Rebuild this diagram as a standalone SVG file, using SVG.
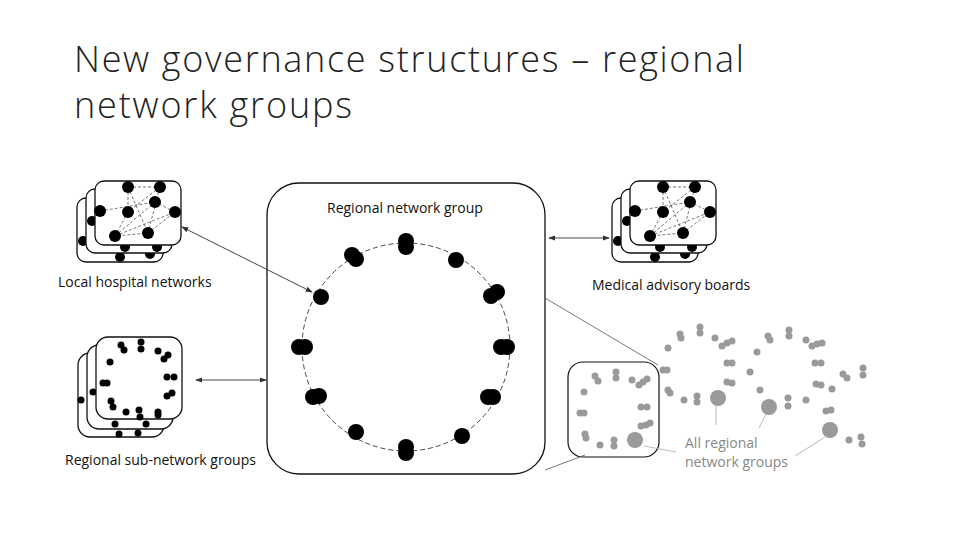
<svg xmlns="http://www.w3.org/2000/svg" width="960" height="540" viewBox="0 0 960 540">
<style>
.t{font-family:"Open Sans","Liberation Sans",sans-serif;font-weight:300;font-size:36px;fill:#222}
.l{font-family:"Open Sans","Liberation Sans",sans-serif;font-size:14px;fill:#111}
.g{font-family:"Open Sans","Liberation Sans",sans-serif;font-size:14px;fill:#888}
.card{fill:#fff;stroke:#111;stroke-width:1.3}
.d{fill:#000}
.gd{fill:#9a9a9a}
.dl{stroke:#555;stroke-width:0.8;stroke-dasharray:3 2;fill:none}
.ar{stroke:#333;stroke-width:0.9;fill:none}
</style>
<defs>
<marker id="a" markerWidth="8" markerHeight="6" refX="7" refY="3" orient="auto-start-reverse"><path d="M0,0 L8,3 L0,6 z" fill="#333"/></marker>
<g id="net">
<rect class="card" x="-18" y="17" width="86" height="64" rx="9"/>
<circle class="d" cx="25" cy="76" r="5"/><circle class="d" cx="55" cy="73" r="5"/><circle class="d" cx="-12" cy="60" r="5"/>
<rect class="card" x="-9" y="8" width="86" height="64" rx="9"/>
<circle class="d" cx="30" cy="66" r="5"/><circle class="d" cx="-3" cy="40" r="5"/><circle class="d" cx="5" cy="22" r="5"/><circle class="d" cx="62" cy="66" r="5"/>
<rect class="card" x="0" y="0" width="86" height="64" rx="9"/>
<path class="dl" d="M33,6 L65,6 M5,30 L60,21 L80,31 L53,52 L20,55 L33,31 M33,6 L33,31 M65,6 L53,52 M33,6 L53,52 M20,55 L60,21 M20,55 L80,31 M65,6 L33,31"/>
<circle class="d" cx="33" cy="6" r="6"/><circle class="d" cx="65" cy="6" r="6"/><circle class="d" cx="5" cy="30" r="6"/><circle class="d" cx="33" cy="31" r="6"/><circle class="d" cx="60" cy="21" r="6"/><circle class="d" cx="80" cy="31" r="6"/><circle class="d" cx="20" cy="55" r="6"/><circle class="d" cx="53" cy="52" r="6"/>
</g>
</defs>
<text class="t" x="74" y="72" textLength="670">New governance structures – regional</text>
<text class="t" x="74" y="118" textLength="278">network groups</text>

<g id="local-hospital-networks">
<use href="#net" x="95" y="181"/>
<text class="l" x="58" y="287">Local hospital networks</text>
</g>

<g id="medical-advisory-boards">
<use href="#net" x="630" y="181"/>
<text class="l" x="592" y="290">Medical advisory boards</text>
</g>

<g id="regional-sub-network-groups">
<rect class="card" x="78" y="353" width="86" height="84" rx="12"/>
<circle class="d" cx="119" cy="434" r="3.5"/><circle class="d" cx="138" cy="433" r="3.5"/><circle class="d" cx="81" cy="400" r="3.5"/><circle class="d" cx="127" cy="426" r="3.5"/>
<rect class="card" x="87" y="345" width="86" height="84" rx="12"/>
<circle class="d" cx="93" cy="392" r="3.5"/><circle class="d" cx="115" cy="424" r="3.5"/><circle class="d" cx="146" cy="424" r="3.5"/>
<rect class="card" x="96" y="337" width="86" height="82" rx="12"/>
<g class="d">
<circle cx="141" cy="342" r="3.5"/><circle cx="141" cy="349" r="3.5"/><circle cx="121" cy="345" r="3.5"/><circle cx="124" cy="350" r="3.5"/><circle cx="158" cy="351" r="3.5"/>
<circle cx="168" cy="355" r="3.5"/><circle cx="164" cy="359" r="3.5"/><circle cx="110" cy="362" r="3.5"/><circle cx="167" cy="377" r="3.5"/><circle cx="174" cy="377" r="3.5"/>
<circle cx="103" cy="383" r="3.5"/><circle cx="107" cy="383" r="3.5"/><circle cx="172" cy="393" r="3.5"/><circle cx="167" cy="396" r="3.5"/>
<circle cx="111" cy="401" r="3.5"/><circle cx="113" cy="407" r="3.5"/><circle cx="126" cy="412" r="3.5"/><circle cx="139" cy="410" r="3.5"/><circle cx="140" cy="417" r="3.5"/><circle cx="158" cy="412" r="3.5"/><circle cx="158" cy="415" r="3.5"/>
</g>
<text class="l" x="65" y="465">Regional sub-network groups</text>
</g>

<g id="regional-network-group">
<rect class="card" x="267" y="183" width="278" height="291" rx="32"/>
<text class="l" x="327" y="213">Regional network group</text>
<circle cx="406" cy="347" r="104" fill="none" stroke="#333" stroke-width="0.9" stroke-dasharray="5 3"/>
<g class="d">
<circle cx="406" cy="241" r="8"/><circle cx="406" cy="247" r="8"/>
<circle cx="456" cy="260" r="8"/>
<circle cx="491" cy="296" r="8"/><circle cx="497" cy="292" r="8"/>
<circle cx="501" cy="347" r="8"/><circle cx="507" cy="347" r="8"/>
<circle cx="488" cy="397" r="8"/><circle cx="493" cy="397" r="8"/>
<circle cx="462" cy="436" r="8"/>
<circle cx="406" cy="447" r="8"/><circle cx="406" cy="453" r="8"/>
<circle cx="356" cy="432" r="8"/>
<circle cx="313" cy="397" r="8"/><circle cx="319" cy="396" r="8"/>
<circle cx="299" cy="347" r="8"/><circle cx="305" cy="347" r="8"/>
<circle cx="321" cy="297" r="8"/>
<circle cx="352" cy="255" r="8"/><circle cx="356" cy="259" r="8"/>
</g>
</g>

<g id="all-regional-network-groups">
<rect x="568" y="362" width="91" height="95" rx="15" fill="none" stroke="#111" stroke-width="1.2"/>
<g class="gd">
<circle cx="595" cy="376" r="3.5"/><circle cx="598" cy="381" r="3.5"/><circle cx="616" cy="372" r="3.5"/><circle cx="616" cy="378" r="3.5"/><circle cx="632" cy="380" r="3.5"/><circle cx="639" cy="385" r="3.5"/><circle cx="643" cy="382" r="3.5"/><circle cx="647" cy="379" r="3.5"/>
<circle cx="584" cy="392" r="3.5"/><circle cx="580" cy="413" r="3.5"/><circle cx="584" cy="413" r="3.5"/><circle cx="641" cy="407" r="3.5"/><circle cx="647" cy="407" r="3.5"/>
<circle cx="585" cy="434" r="3.5"/><circle cx="586" cy="438" r="3.5"/><circle cx="641" cy="426" r="3.5"/><circle cx="646" cy="425" r="3.5"/><circle cx="650" cy="423" r="3.5"/>
<circle cx="600" cy="445" r="3.5"/><circle cx="614" cy="440" r="3.5"/><circle cx="614" cy="446" r="3.5"/>
<circle cx="635" cy="440" r="8"/>
<circle cx="663" cy="370" r="3.5"/><circle cx="667" cy="370" r="3.5"/><circle cx="668" cy="390" r="3.5"/><circle cx="670" cy="393" r="3.5"/><circle cx="668" cy="348" r="3.5"/>
<circle cx="680" cy="334" r="3.5"/><circle cx="681" cy="338" r="3.5"/><circle cx="700" cy="327" r="3.5"/><circle cx="700" cy="333" r="3.5"/><circle cx="715" cy="338" r="3.5"/>
<circle cx="722" cy="346" r="3.5"/><circle cx="727" cy="343" r="3.5"/><circle cx="732" cy="341" r="3.5"/><circle cx="727" cy="363" r="3.5"/><circle cx="732" cy="363" r="3.5"/>
<circle cx="727" cy="382" r="3.5"/><circle cx="732" cy="383" r="3.5"/><circle cx="684" cy="400" r="3.5"/><circle cx="697" cy="396" r="3.5"/><circle cx="697" cy="402" r="3.5"/>
<circle cx="718" cy="398" r="8"/>
<circle cx="757" cy="352" r="3.5"/><circle cx="768" cy="336" r="3.5"/><circle cx="770" cy="340" r="3.5"/><circle cx="789" cy="330" r="3.5"/><circle cx="789" cy="336" r="3.5"/>
<circle cx="806" cy="340" r="3.5"/><circle cx="812" cy="346" r="3.5"/><circle cx="817" cy="344" r="3.5"/><circle cx="822" cy="343" r="3.5"/>
<circle cx="750" cy="372" r="3.5"/><circle cx="760" cy="390" r="3.5"/><circle cx="788" cy="398" r="3.5"/><circle cx="788" cy="406" r="3.5"/><circle cx="806" cy="400" r="3.5"/>
<circle cx="815" cy="363" r="3.5"/><circle cx="821" cy="363" r="3.5"/><circle cx="816" cy="384" r="3.5"/><circle cx="821" cy="385" r="3.5"/><circle cx="832" cy="389" r="3.5"/>
<circle cx="826" cy="411" r="3.5"/><circle cx="831" cy="410" r="3.5"/><circle cx="843" cy="374" r="3.5"/><circle cx="847" cy="378" r="3.5"/>
<circle cx="863" cy="368" r="3.5"/><circle cx="863" cy="375" r="3.5"/><circle cx="849" cy="440" r="3.5"/><circle cx="861" cy="437" r="3.5"/><circle cx="862" cy="444" r="3.5"/>
<circle cx="769" cy="407" r="8"/><circle cx="830" cy="430" r="8"/>
</g>
<text class="g" x="685" y="448">All regional</text>
<text class="g" x="685" y="467">network groups</text>
</g>

<g id="connectors">
<line class="ar" x1="182" y1="227" x2="312" y2="292" marker-start="url(#a)" marker-end="url(#a)"/>
<line class="ar" x1="196" y1="380" x2="266" y2="380" marker-start="url(#a)" marker-end="url(#a)"/>
<line class="ar" x1="549" y1="238" x2="609" y2="238" marker-start="url(#a)" marker-end="url(#a)"/>
<line x1="545" y1="298" x2="658" y2="365" stroke="#555" stroke-width="0.8"/>
<line x1="545" y1="470" x2="585" y2="455" stroke="#555" stroke-width="0.8"/>
<line x1="644" y1="446" x2="676" y2="452" stroke="#aaa" stroke-width="0.8"/>
<line x1="716" y1="405" x2="716" y2="425" stroke="#aaa" stroke-width="0.8"/>
<line x1="766" y1="414" x2="759" y2="428" stroke="#aaa" stroke-width="0.8"/>
<line x1="825" y1="437" x2="795" y2="456" stroke="#aaa" stroke-width="0.8"/>
</g>
</svg>
